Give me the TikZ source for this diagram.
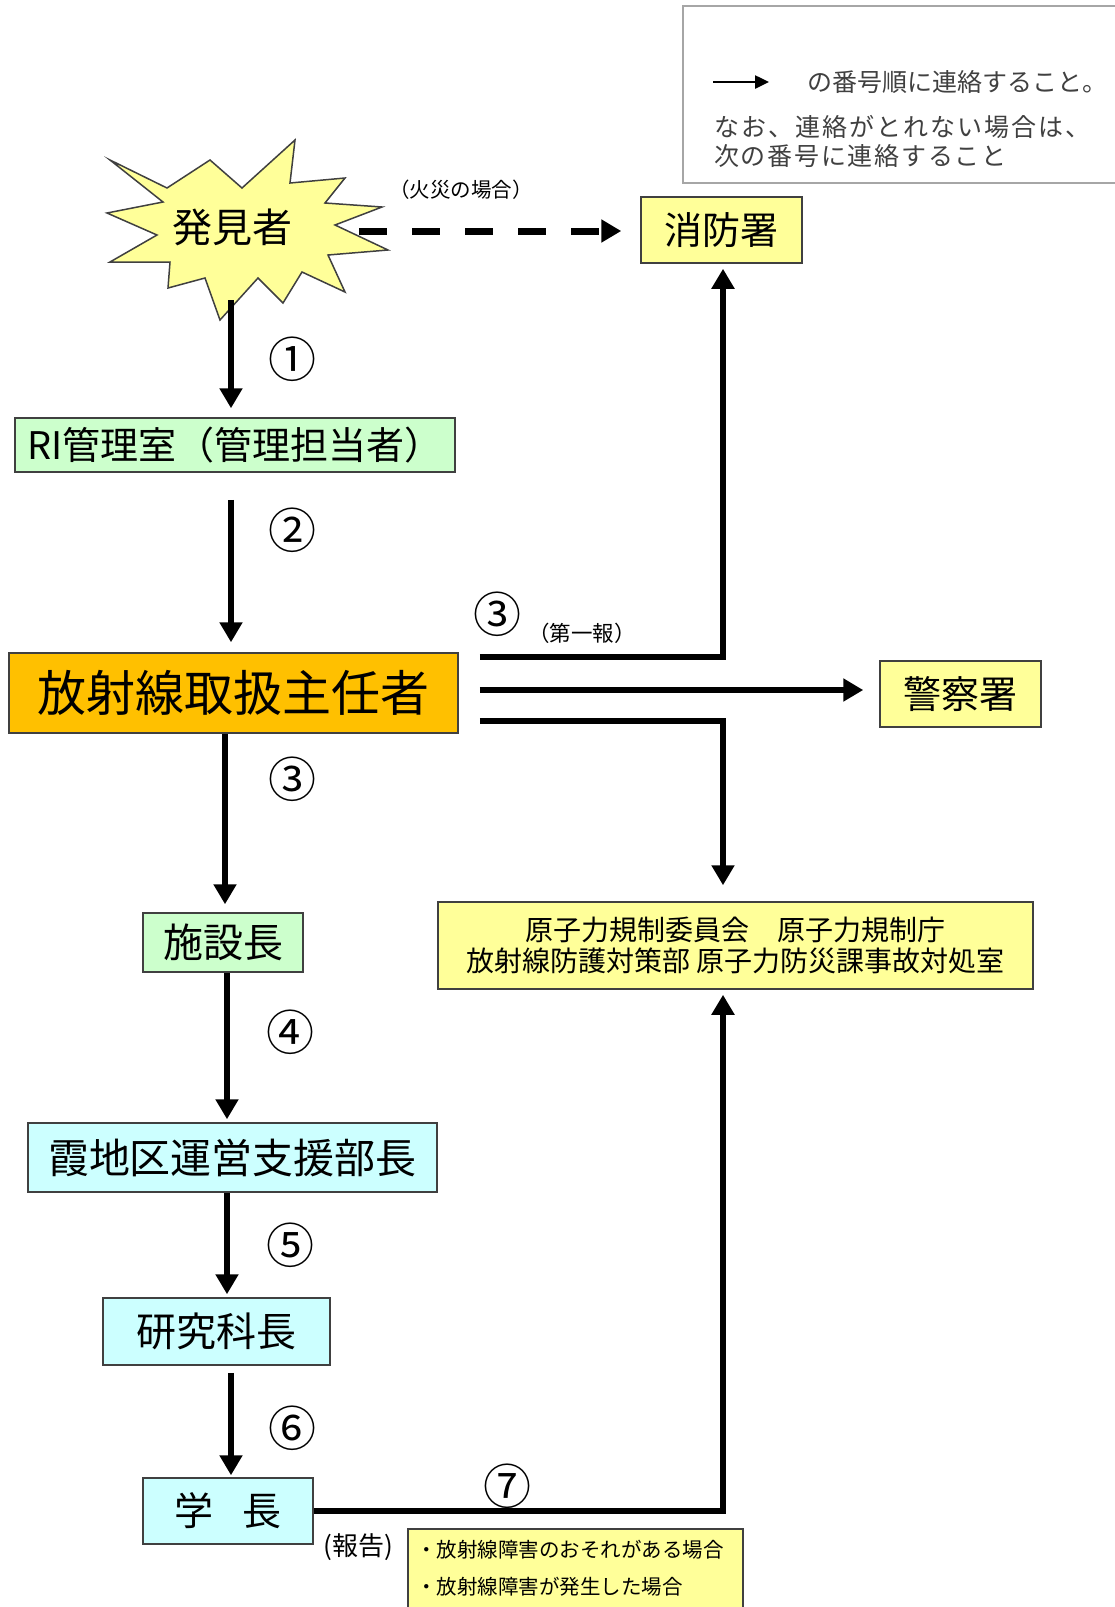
\documentclass[tikz,border=0pt]{standalone}
\usepackage{fontspec}
\setmainfont{Noto Sans CJK JP}
\usetikzlibrary{arrows.meta}
\definecolor{yel}{HTML}{FFFF99}
\definecolor{grn}{HTML}{CCFFCC}
\definecolor{cyn}{HTML}{CCFFFF}
\definecolor{org}{HTML}{FFC000}
\definecolor{bd}{HTML}{404040}
\definecolor{lgtxt}{HTML}{404040}
\newcommand{\myfs}[1]{\fontsize{#1}{#1}\selectfont}
\begin{document}
\begin{tikzpicture}[x=1pt,y=-1pt,
  box/.style={draw=bd, line width=1.5pt, inner sep=0pt, text=black},
  arr/.style={line width=6pt, line join=miter, -{Triangle[length=20pt,width=22pt]}},
  num/.style={inner sep=0pt, font=\myfs{48}},
  small/.style={inner sep=0pt},
  lgt/.style={inner sep=0pt, anchor=west, text=lgtxt, font=\myfs{25}},
]
\clip (0,0) rectangle (1115,1607);
\fill[white] (0,0) rectangle (1115,1607);

% legend
\node[draw=gray!70, line width=1.5pt, minimum width=460pt, minimum height=177pt, anchor=north west, inner sep=0pt] (legend) at (682,5) {};
\coordinate (la) at (713,82);
\coordinate (lb) at (769,82);
\draw[line width=2.5pt, -{Triangle[length=14pt,width=13pt]}] (la) -- (lb);
\node[lgt] (lt1) at (807,82) {の番号順に連絡すること。};
\node[lgt, font=\myfs{25}\addfontfeature{LetterSpace=8}] (lt2) at (714,127) {なお、連絡がとれない場合は、};
\node[lgt, font=\myfs{25}\addfontfeature{LetterSpace=7}] (lt3) at (714,156) {次の番号に連絡すること};

% star
\filldraw[fill=yel, draw=bd, line width=1.5pt, line join=miter]
  (110,160) -- (167,188) -- (210,160) -- (242,188) -- (295,140) -- (290,183)
  -- (345,178) -- (325,203) -- (382,207) -- (335,225) -- (388,250) -- (328,255)
  -- (345,292) -- (302,272) -- (283,303) -- (258,278) -- (220,320) -- (205,278)
  -- (168,288) -- (170,262) -- (110,262) -- (157,235) -- (107,213) -- (163,202) -- cycle;
\node[inner sep=0pt, font=\myfs{40}] (finder) at (232,227) {発見者};

% boxes
\node[box, fill=yel, minimum width=161pt, minimum height=66pt, font=\myfs{38}] (shobo) at (721.5,230) {消防署};
\node[box, fill=yel, minimum width=161pt, minimum height=66pt, font=\myfs{38}] (keisatsu) at (960.5,694) {警察署};
\node[box, fill=grn, minimum width=440pt, minimum height=54pt, font=\myfs{38}] (ri) at (235,445) {RI管理室（管理担当者）};
\node[box, fill=org, minimum width=449pt, minimum height=80pt, font=\myfs{49}] (sunin) at (233.5,693) {放射線取扱主任者};
\node[box, fill=grn, minimum width=160pt, minimum height=59pt, font=\myfs{40}] (shisetsu) at (223,942.5) {施設長};
\node[box, fill=cyn, minimum width=409pt, minimum height=69pt, font=\myfs{41}] (kasumi) at (232.5,1157.5) {霞地区運営支援部長};
\node[box, fill=cyn, minimum width=227pt, minimum height=67pt, font=\myfs{40}] (kenkyu) at (216.5,1331.5) {研究科長};
\node[box, fill=cyn, minimum width=170pt, minimum height=66pt, font=\myfs{39}] (gakucho) at (228,1511) {学\hspace{0.75em}長};
\node[box, fill=yel, minimum width=595pt, minimum height=87pt, align=center, font=\fontsize{28}{31}\selectfont] (gen) at (735.5,945.5) {原子力規制委員会　原子力規制庁\\放射線防護対策部 原子力防災課事故対処室};
\node[box, fill=yel, minimum width=335pt, minimum height=120pt, anchor=north west] (note) at (407,1528) {};
\node[small, anchor=west, font=\myfs{20.5}] (note1) at (416,1550) {・放射線障害のおそれがある場合};
\node[small, anchor=west, font=\myfs{20.5}] (note2) at (416,1587) {・放射線障害が発生した場合};

% column coordinates
\coordinate (c1) at (231,0);
\coordinate (c2) at (225,0);
\coordinate (c3) at (227,0);
\coordinate (cr) at (723,0);
\coordinate (s1) at (0,657);
\coordinate (s2) at (0,690);
\coordinate (s3) at (0,721);
\coordinate (sb) at (231,300);
\coordinate (ds) at (359,231);

% connectors
\draw[line width=7pt, dash pattern=on 28pt off 25pt, -{Triangle[length=20pt,width=22pt]}, shorten >=19pt] (ds) -- (shobo.west |- ds);
\draw[arr, shorten >=9pt] (sb) -- (ri.north -| sb);
\draw[arr, shorten <=27pt, shorten >=10pt] (ri.south -| c1) -- (sunin.north -| c1);
\draw[arr, shorten >=8pt] (sunin.south -| c2) -- (shisetsu.north -| c2);
\draw[arr, shorten >=3pt] (shisetsu.south -| c3) -- (kasumi.north -| c3);
\draw[arr, shorten >=3pt] (kasumi.south -| c3) -- (kenkyu.north -| c3);
\draw[arr, shorten <=7pt, shorten >=2pt] (kenkyu.south -| c1) -- (gakucho.north -| c1);
\draw[arr, shorten >=5pt] (gakucho.east) -- (gakucho.east -| cr) -- (gen.south -| cr);
\draw[arr, shorten <=21pt, shorten >=5pt] (sunin.east |- s1) -- (cr |- s1) -- (shobo.south -| cr);
\draw[arr, shorten <=21pt, shorten >=16pt] (sunin.east |- s2) -- (keisatsu.west |- s2);
\draw[arr, shorten <=21pt, shorten >=16pt] (sunin.east |- s3) -- (cr |- s3) -- (gen.north -| cr);

% labels
\node[num] (n1) at (292,359) {①};
\node[num] (n2) at (292,530) {②};
\node[num] (n3a) at (497,614) {③};
\node[num] (n3b) at (292,779) {③};
\node[num] (n4) at (290,1032) {④};
\node[num] (n5) at (290,1245) {⑤};
\node[num] (n6) at (292,1428) {⑥};
\node[num] (n7) at (507,1486) {⑦};
\node[small, font=\myfs{20.5}] (fire) at (461,190) {（火災の場合）};
\node[small, font=\myfs{21.5}] (first) at (582,633) {（第一報）};
\node[small, font=\myfs{26}] (report) at (358,1547) {(報告)};
\end{tikzpicture}
\end{document}
